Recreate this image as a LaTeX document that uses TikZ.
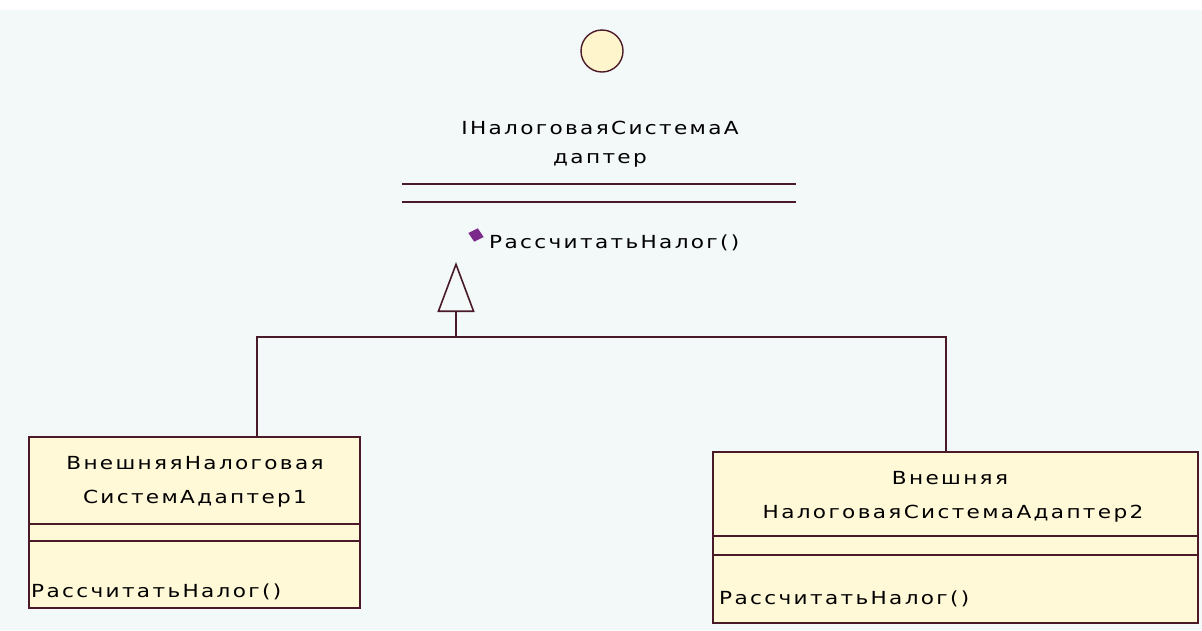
\documentclass[tikz,border=0pt]{standalone}
\usepackage{fontspec}
\newfontfamily\umlfont[LetterSpace=13,FakeStretch=1.2]{DejaVu Sans}
\usetikzlibrary{arrows.meta,shapes.geometric}
\definecolor{bg}{HTML}{F3F8F8}
\definecolor{umlline}{HTML}{4A1A28}
\definecolor{boxfill}{HTML}{FFF9D8}
\definecolor{circfill}{HTML}{FFF5CC}
\definecolor{diam}{HTML}{7B2A8C}
\begin{document}
\begin{tikzpicture}[x=1pt,y=-1pt,
  txt/.style={font=\umlfont\fontsize{18}{20}\selectfont, inner sep=0pt, text=black},
  ln/.style={draw=umlline, line width=1.6pt},
  umlbox/.style={draw=umlline, fill=boxfill, line width=1.8pt, anchor=north west, inner sep=0pt}]
\fill[white] (0,0) rectangle (1202,630);
\fill[bg] (0,10) rectangle (1202,630);
\useasboundingbox (0,0) rectangle (1202,630);
% interface
\node[circle, draw=umlline, fill=circfill, minimum size=42pt, inner sep=0pt, line width=1.4pt] (iface) at (602,51) {};
\node[txt] (it1) at (600,128) {IНалоговаяСистемаА};
\node[txt] (it2) at (600,160) {даптер};
\coordinate (ia1) at (402,184); \coordinate (ib1) at (796,184);
\coordinate (ia2) at (402,202); \coordinate (ib2) at (796,202);
\draw[ln] (ia1) -- (ib1);
\draw[ln] (ia2) -- (ib2);
\node[diamond, fill=diam, minimum width=16pt, minimum height=14pt, inner sep=0pt, rotate=-15] (dm) at (476,235) {};
\node[txt, anchor=west] (iop) at (489,243) {РассчитатьНалог()};
% boxes
\node[umlbox, minimum width=331pt, minimum height=171pt] (box1) at (28,436) {};
\draw[ln] (box1.west |- 0,524) -- (box1.east |- 0,524);
\draw[ln] (box1.west |- 0,541) -- (box1.east |- 0,541);
\node[txt] (b1t1) at (195,463) {ВнешняяНалоговая};
\node[txt] (b1t2) at (195,499) {СистемАдаптер1};
\node[txt, anchor=west] (b1op) at (31,592) {РассчитатьНалог()};

\node[umlbox, minimum width=485pt, minimum height=171pt] (box2) at (712,451) {};
\draw[ln] (box2.west |- 0,536) -- (box2.east |- 0,536);
\draw[ln] (box2.west |- 0,555) -- (box2.east |- 0,555);
\node[txt] (b2t1) at (950,478) {Внешняя};
\node[txt] (b2t2) at (953,514) {НалоговаяСистемаАдаптер2};
\node[txt, anchor=west] (b2op) at (719,599) {РассчитатьНалог()};
% generalization
\coordinate (c1) at (257,436);
\coordinate (c2) at (946,451);
\coordinate (jl) at (257,337);
\coordinate (jr) at (946,337);
\coordinate (jm) at (456,337);
\coordinate (tip) at (456,262);
\draw[ln] (c1) -- (jl) -- (jr) -- (c2);
\draw[ln, -{Triangle[open, length=50pt, width=37pt, line width=1.6pt]}] (jm) -- (tip);
\end{tikzpicture}
\end{document}
